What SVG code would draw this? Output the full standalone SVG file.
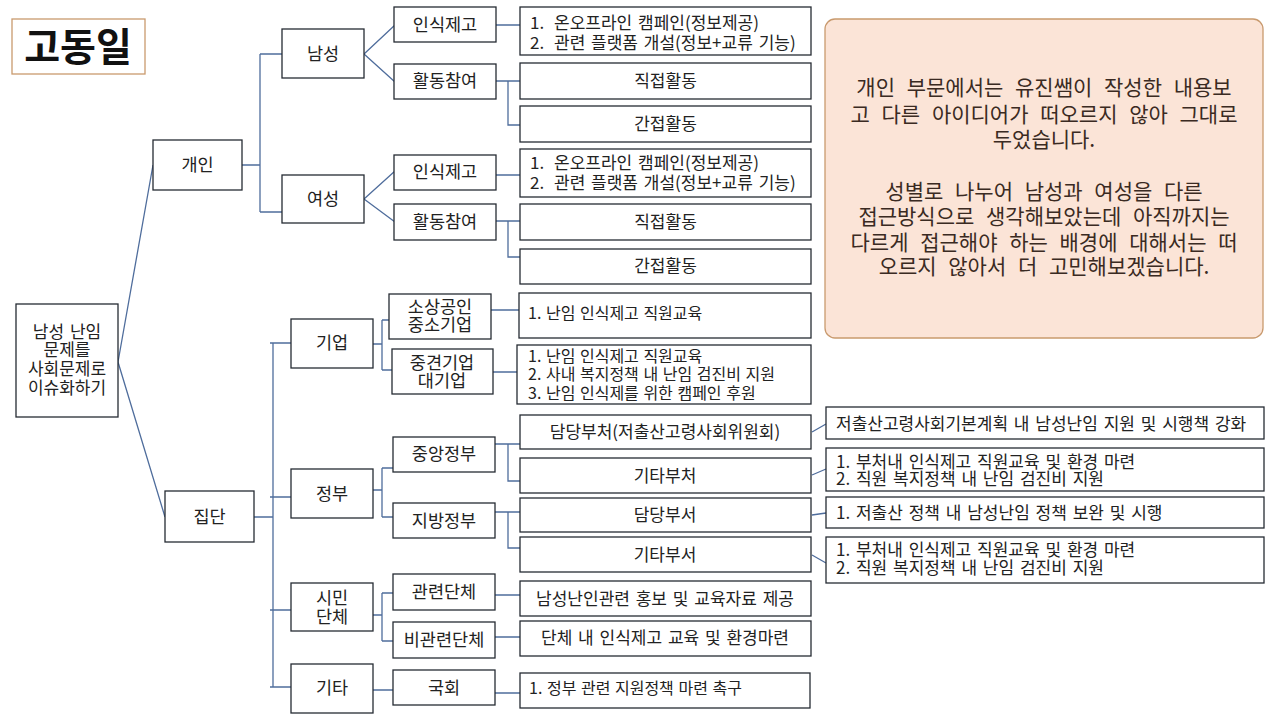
<svg xmlns="http://www.w3.org/2000/svg" width="1280" height="720" viewBox="0 0 1280 720">
<style>
.bx{fill:#fff;stroke:#262b33;stroke-width:1.3}
.ln{fill:none;stroke:#4f6d9c;stroke-width:1.3}
text{font-family:"Noto Sans CJK KR","Noto Sans",sans-serif;font-size:17px;word-spacing:2px;fill:#222}
.c{text-anchor:middle}
.s{font-size:16px;word-spacing:1px}
.k{font-size:17.5px}
.n{font-size:21px;word-spacing:7px;fill:#3a2a22}
</style>
<rect width="1280" height="720" fill="#fff"/>
<g id="title"><rect x="12" y="19" width="133" height="55" fill="#fff" stroke="#c99a6e" stroke-width="1.3"/><text x="78" y="61" class="c" style="font-size:39px;font-weight:bold;fill:#111">고동일</text></g>
<g id="note"><rect x="825" y="19" width="438" height="319" rx="10" fill="#fbe4d7" stroke="#c99a6e" stroke-width="1.3"/>
<text class="c n" x="1044" y="95">개인 부문에서는 유진쌤이 작성한 내용보</text>
<text class="c n" x="1044" y="122">고 다른 아이디어가 떠오르지 않아 그대로</text>
<text class="c n" x="1044" y="147">두었습니다.</text>
<text class="c n" x="1044" y="199">성별로 나누어 남성과 여성을 다른</text>
<text class="c n" x="1044" y="224">접근방식으로 생각해보았는데 아직까지는</text>
<text class="c n" x="1044" y="250">다르게 접근해야 하는 배경에 대해서는 떠</text>
<text class="c n" x="1044" y="274">오르지 않아서 더 고민해보겠습니다.</text></g>
<g id="connectors">
<path class="ln" d="M118 362L153 165M118 362L165 517"/>
<path class="ln" d="M242 165H260M260 54V212M260 54H282M260 212H282"/>
<path class="ln" d="M364 54L395 25M364 54L395 82M364 199L395 171M364 199L395 222"/>
<path class="ln" d="M496 25H520M496 81H520M508 81V125H520M496 175H520M496 221H520M508 221V257H520"/>
<path class="ln" d="M254 517H273M273 343V687M270 343H291M270 497H291M270 610H291M270 687H291"/>
<path class="ln" d="M373 344H382M382 320V370M382 320H389M382 370H392M491 310H519M493 372H517"/>
<path class="ln" d="M373 490H382M382 468V517M382 468H393M382 517H393M495 444H520M508 444V481H520M495 512H520M508 512V548H520"/>
<path class="ln" d="M812 432L826 424M812 475L826 469M812 515L826 513M812 555L826 563"/>
<path class="ln" d="M373 615H382M382 593V641M382 593H393M382 641H393M495 595H520M495 637H520"/>
<path class="ln" d="M373 690H393M495 693H520"/>
</g>
<g id="root"><rect class="bx" x="16" y="304" width="102" height="113"/><text class="c" x="67" y="338">남성 난임</text><text class="c" x="67" y="356">문제를</text><text class="c" x="67" y="375">사회문제로</text><text class="c" x="67" y="394">이슈화하기</text></g>
<g id="gaein"><rect class="bx" x="153" y="140" width="89" height="50"/><text class="c k" x="197.5" y="171">개인</text></g>
<g id="jipdan"><rect class="bx" x="165" y="491" width="89" height="51"/><text class="c k" x="209.5" y="523">집단</text></g>
<g id="namseong"><rect class="bx" x="282" y="29" width="82" height="49"/><text class="c k" x="323" y="60">남성</text></g>
<g id="yeoseong"><rect class="bx" x="282" y="175" width="82" height="48"/><text class="c k" x="323" y="205">여성</text></g>
<g id="m-insik"><rect class="bx" x="394" y="7" width="102" height="35"/><text class="c k" x="445" y="31">인식제고</text></g>
<g id="m-hwal"><rect class="bx" x="394" y="64" width="102" height="35"/><text class="c k" x="445" y="87">활동참여</text></g>
<g id="f-insik"><rect class="bx" x="394" y="155" width="102" height="35"/><text class="c k" x="445" y="178">인식제고</text></g>
<g id="f-hwal"><rect class="bx" x="394" y="204" width="102" height="36"/><text class="c k" x="445" y="228">활동참여</text></g>
<g id="m-list"><rect class="bx" x="520" y="7" width="291" height="48"/><text x="530" y="29">1.</text><text x="554" y="29">온오프라인 캠페인(정보제공)</text><text x="530" y="49">2.</text><text x="554" y="49">관련 플랫폼 개설(정보+교류 기능)</text></g>
<g id="m-direct"><rect class="bx" x="520" y="63" width="291" height="36"/><text class="c" x="665.5" y="87">직접활동</text></g>
<g id="m-indirect"><rect class="bx" x="520" y="106" width="291" height="36"/><text class="c" x="665.5" y="130">간접활동</text></g>
<g id="f-list"><rect class="bx" x="520" y="149" width="291" height="48"/><text x="530" y="169">1.</text><text x="554" y="169">온오프라인 캠페인(정보제공)</text><text x="530" y="189">2.</text><text x="554" y="189">관련 플랫폼 개설(정보+교류 기능)</text></g>
<g id="f-direct"><rect class="bx" x="520" y="204" width="291" height="36"/><text class="c" x="665.5" y="228">직접활동</text></g>
<g id="f-indirect"><rect class="bx" x="520" y="249" width="291" height="35"/><text class="c" x="665.5" y="272">간접활동</text></g>
<g id="gieop"><rect class="bx" x="291" y="319" width="82" height="49"/><text class="c k" x="332" y="349">기업</text></g>
<g id="jeongbu"><rect class="bx" x="291" y="469" width="82" height="49"/><text class="c k" x="332" y="500">정부</text></g>
<g id="simin"><rect class="bx" x="291" y="583" width="82" height="48"/><text class="c k" x="332" y="604">시민</text><text class="c k" x="332" y="623">단체</text></g>
<g id="gita"><rect class="bx" x="291" y="664" width="82" height="49"/><text class="c k" x="332" y="694">기타</text></g>
<g id="small"><rect class="bx" x="389" y="294" width="102" height="45"/><text class="c k" x="440" y="313">소상공인</text><text class="c k" x="440" y="331">중소기업</text></g>
<g id="mid"><rect class="bx" x="392" y="349" width="101" height="45"/><text class="c k" x="442" y="369">중견기업</text><text class="c k" x="442" y="387">대기업</text></g>
<g id="small-r"><rect class="bx" x="519" y="293" width="292" height="45"/><text class="s" x="528" y="319">1. 난임 인식제고 직원교육</text></g>
<g id="mid-r"><rect class="bx" x="517" y="345" width="294" height="59"/><text class="s" x="528" y="362">1. 난임 인식제고 직원교육</text><text class="s" x="528" y="380">2. 사내 복지정책 내 난임 검진비 지원</text><text class="s" x="528" y="399">3. 난임 인식제를 위한 캠페인 후원</text></g>
<g id="central"><rect class="bx" x="393" y="437" width="102" height="35"/><text class="c k" x="444" y="460">중앙정부</text></g>
<g id="local"><rect class="bx" x="393" y="503" width="102" height="35"/><text class="c k" x="444" y="527">지방정부</text></g>
<g id="c-dept"><rect class="bx" x="520" y="415" width="291" height="34"/><text class="c" x="665" y="438">담당부처(저출산고령사회위원회)</text></g>
<g id="c-other"><rect class="bx" x="520" y="458" width="291" height="35"/><text class="c" x="665" y="482">기타부처</text></g>
<g id="l-dept"><rect class="bx" x="520" y="498" width="291" height="34"/><text class="c" x="665" y="521">담당부서</text></g>
<g id="l-other"><rect class="bx" x="520" y="537" width="291" height="35"/><text class="c" x="665" y="561">기타부서</text></g>
<g id="c-dept-r"><rect class="bx" x="826" y="407" width="438" height="32"/><text x="836" y="430">저출산고령사회기본계획 내 남성난임 지원 및 시행책 강화</text></g>
<g id="c-other-r"><rect class="bx" x="826" y="448" width="438" height="43"/><text x="836" y="468">1. 부처내 인식제고 직원교육 및 환경 마련</text><text x="836" y="485">2. 직원 복지정책 내 난임 검진비 지원</text></g>
<g id="l-dept-r"><rect class="bx" x="826" y="497" width="438" height="31"/><text x="836" y="519">1. 저출산 정책 내 남성난임 정책 보완 및 시행</text></g>
<g id="l-other-r"><rect class="bx" x="826" y="537" width="438" height="46"/><text x="836" y="556">1. 부처내 인식제고 직원교육 및 환경 마련</text><text x="836" y="574">2. 직원 복지정책 내 난임 검진비 지원</text></g>
<g id="related"><rect class="bx" x="393" y="574" width="102" height="36"/><text class="c k" x="444" y="598">관련단체</text></g>
<g id="unrelated"><rect class="bx" x="393" y="622" width="102" height="36"/><text class="c k" x="444" y="646">비관련단체</text></g>
<g id="related-r"><rect class="bx" x="520" y="581" width="291" height="35"/><text class="c" x="665" y="605">남성난인관련 홍보 및 교육자료 제공</text></g>
<g id="unrelated-r"><rect class="bx" x="520" y="621" width="291" height="35"/><text class="c" x="665" y="644">단체 내 인식제고 교육 및 환경마련</text></g>
<g id="gukhoe"><rect class="bx" x="393" y="670" width="102" height="35"/><text class="c k" x="444" y="694">국회</text></g>
<g id="gukhoe-r"><rect class="bx" x="520" y="673" width="290" height="35"/><text class="s" x="529" y="694">1. 정부 관련 지원정책 마련 촉구</text></g>
</svg>
